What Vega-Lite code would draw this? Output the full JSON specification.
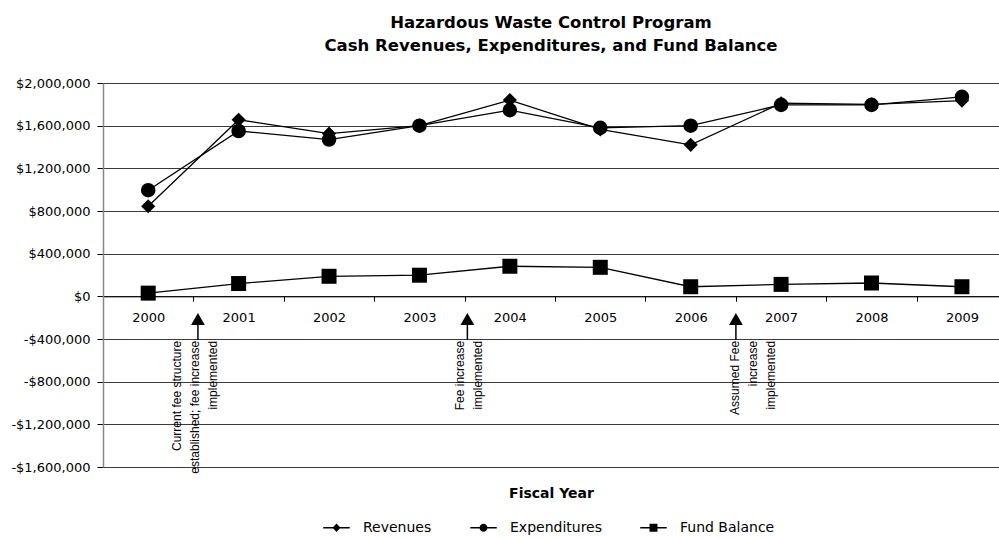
{
  "$schema": "https://vega.github.io/schema/vega-lite/v6.json",
  "width": 896,
  "height": 384,
  "autosize": {"type": "none"},
  "padding": {"left": 103, "top": 83, "right": 0, "bottom": 71},
  "background": "white",
  "config": {"view": {"stroke": null}},
  "title": {
    "text": ["Hazardous Waste Control Program", "Cash Revenues, Expenditures, and Fund Balance"],
    "font": "DejaVu Sans",
    "fontSize": 16.5,
    "fontWeight": "bold",
    "color": "black",
    "anchor": "middle",
    "lineHeight": 23,
    "offset": 23
  },
  "data": {
    "values": [
      {"year": 2000, "series": "Revenues", "value": 845000},
      {"year": 2001, "series": "Revenues", "value": 1655000},
      {"year": 2002, "series": "Revenues", "value": 1525000},
      {"year": 2003, "series": "Revenues", "value": 1600000},
      {"year": 2004, "series": "Revenues", "value": 1840000},
      {"year": 2005, "series": "Revenues", "value": 1565000},
      {"year": 2006, "series": "Revenues", "value": 1420000},
      {"year": 2007, "series": "Revenues", "value": 1810000},
      {"year": 2008, "series": "Revenues", "value": 1800000},
      {"year": 2009, "series": "Revenues", "value": 1835000},
      {"year": 2000, "series": "Expenditures", "value": 995000},
      {"year": 2001, "series": "Expenditures", "value": 1550000},
      {"year": 2002, "series": "Expenditures", "value": 1470000},
      {"year": 2003, "series": "Expenditures", "value": 1600000},
      {"year": 2004, "series": "Expenditures", "value": 1745000},
      {"year": 2005, "series": "Expenditures", "value": 1580000},
      {"year": 2006, "series": "Expenditures", "value": 1600000},
      {"year": 2007, "series": "Expenditures", "value": 1795000},
      {"year": 2008, "series": "Expenditures", "value": 1795000},
      {"year": 2009, "series": "Expenditures", "value": 1870000},
      {"year": 2000, "series": "Fund Balance", "value": 30000},
      {"year": 2001, "series": "Fund Balance", "value": 120000},
      {"year": 2002, "series": "Fund Balance", "value": 188000},
      {"year": 2003, "series": "Fund Balance", "value": 198000},
      {"year": 2004, "series": "Fund Balance", "value": 282000},
      {"year": 2005, "series": "Fund Balance", "value": 272000},
      {"year": 2006, "series": "Fund Balance", "value": 90000},
      {"year": 2007, "series": "Fund Balance", "value": 112000},
      {"year": 2008, "series": "Fund Balance", "value": 125000},
      {"year": 2009, "series": "Fund Balance", "value": 90000}
    ]
  },
  "encoding": {
    "x": {
      "field": "year",
      "type": "quantitative",
      "scale": {"domain": [1999.5, 2009.41], "nice": false, "zero": false},
      "axis": {
        "values": [1999.5, 2000.5, 2001.5, 2002.5, 2003.5, 2004.5, 2005.5, 2006.5, 2007.5, 2008.5],
        "labelExpr": "toString(datum.value + 0.5)",
        "labelOffset": 45.2,
        "labelFlush": false,
        "labelOverlap": false,
        "labelBound": false,
        "offset": -170.67,
        "grid": false,
        "domainColor": "black",
        "domainWidth": 1,
        "tickColor": "black",
        "tickSize": 5,
        "labelPadding": 10,
        "labelFont": "DejaVu Sans",
        "labelFontSize": 13,
        "labelColor": "black",
        "title": "Fiscal Year",
        "titleFont": "DejaVu Sans",
        "titleFontSize": 14,
        "titleFontWeight": "bold",
        "titleColor": "black",
        "titleBaseline": "middle",
        "titleY": 197
      }
    },
    "y": {
      "field": "value",
      "type": "quantitative",
      "scale": {"domain": [-1600000, 2000000], "nice": false, "zero": false},
      "axis": {
        "values": [-1600000, -1200000, -800000, -400000, 0, 400000, 800000, 1200000, 1600000, 2000000],
        "labelExpr": "datum.value < 0 ? '-$' + format(-datum.value, ',') : '$' + format(datum.value, ',')",
        "title": null,
        "grid": true,
        "gridColor": "#3a3a3a",
        "gridWidth": 1,
        "domainColor": "#888888",
        "domainWidth": 1.5,
        "tickColor": "black",
        "tickSize": 6,
        "labelPadding": 7,
        "labelFont": "DejaVu Sans",
        "labelFontSize": 13,
        "labelColor": "black",
        "labelOverlap": false
      }
    }
  },
  "layer": [
    {
      "mark": {"type": "line", "color": "black", "strokeWidth": 1.3},
      "encoding": {"detail": {"field": "series", "type": "nominal"}}
    },
    {
      "mark": {"type": "point", "filled": true, "color": "black", "opacity": 1},
      "encoding": {
        "shape": {
          "field": "series",
          "type": "nominal",
          "scale": {"domain": ["Revenues", "Expenditures", "Fund Balance"], "range": ["diamond", "circle", "square"]},
          "legend": null
        },
        "size": {
          "field": "series",
          "type": "nominal",
          "scale": {"domain": ["Revenues", "Expenditures", "Fund Balance"], "range": [200, 225, 240]},
          "legend": null
        }
      }
    },
    {
      "mark": {"type": "point", "filled": true, "color": "black", "opacity": 0},
      "encoding": {
        "shape": {
          "field": "series",
          "type": "nominal",
          "scale": {
            "domain": ["Revenues", "Expenditures", "Fund Balance"],
            "range": [
              "M-1,-0.05H1V0.05H-1Z M0,-0.32L0.3,0L0,0.32L-0.3,0Z",
              "M-1,-0.05H1V0.05H-1Z M-0.3,0A0.3,0.3 0 1,1 0.3,0A0.3,0.3 0 1,1 -0.3,0Z",
              "M-1,-0.05H1V0.05H-1Z M-0.3,-0.3H0.3V0.3H-0.3Z"
            ]
          },
          "legend": {
            "title": null,
            "orient": "none",
            "direction": "horizontal",
            "legendX": 220,
            "legendY": 431,
            "padding": 0,
            "symbolSize": 702,
            "symbolOpacity": 1,
            "symbolFillColor": "black",
            "symbolStrokeWidth": 0,
            "labelOffset": 13,
            "columnPadding": 38,
            "labelFont": "DejaVu Sans",
            "labelFontSize": 14,
            "labelColor": "black"
          }
        }
      }
    },
    {
      "data": {
        "values": [
          {"ax": 2000.55, "y1": -410000, "y2": -212000},
          {"ax": 2003.53, "y1": -410000, "y2": -212000},
          {"ax": 2006.5, "y1": -410000, "y2": -212000}
        ]
      },
      "mark": {"type": "rule", "color": "black", "strokeWidth": 1.5},
      "encoding": {
        "x": {"field": "ax", "type": "quantitative"},
        "y": {"field": "y1", "type": "quantitative"},
        "y2": {"field": "y2"}
      }
    },
    {
      "data": {
        "values": [
          {"ax": 2000.55, "ay": -212000},
          {"ax": 2003.53, "ay": -212000},
          {"ax": 2006.5, "ay": -212000}
        ]
      },
      "mark": {"type": "point", "shape": "triangle-up", "filled": true, "color": "black", "opacity": 1, "size": 190},
      "encoding": {
        "x": {"field": "ax", "type": "quantitative"},
        "y": {"field": "ay", "type": "quantitative"}
      }
    },
    {
      "data": {
        "values": [
          {"ax": 2000.32, "ay": -418000, "note": "Current fee structure|established; fee increase|implemented"},
          {"ax": 2003.45, "ay": -418000, "note": "Fee increase|implemented"},
          {"ax": 2006.49, "ay": -418000, "note": "Assumed Fee|increase|implemented"}
        ]
      },
      "mark": {"type": "text", "angle": 270, "align": "right", "baseline": "middle", "lineBreak": "|", "lineHeight": 18, "font": "Liberation Sans", "fontSize": 12, "color": "black"},
      "encoding": {
        "x": {"field": "ax", "type": "quantitative"},
        "y": {"field": "ay", "type": "quantitative"},
        "text": {"field": "note", "type": "nominal"}
      }
    }
  ],
  "resolve": {"scale": {"shape": "independent"}}
}
